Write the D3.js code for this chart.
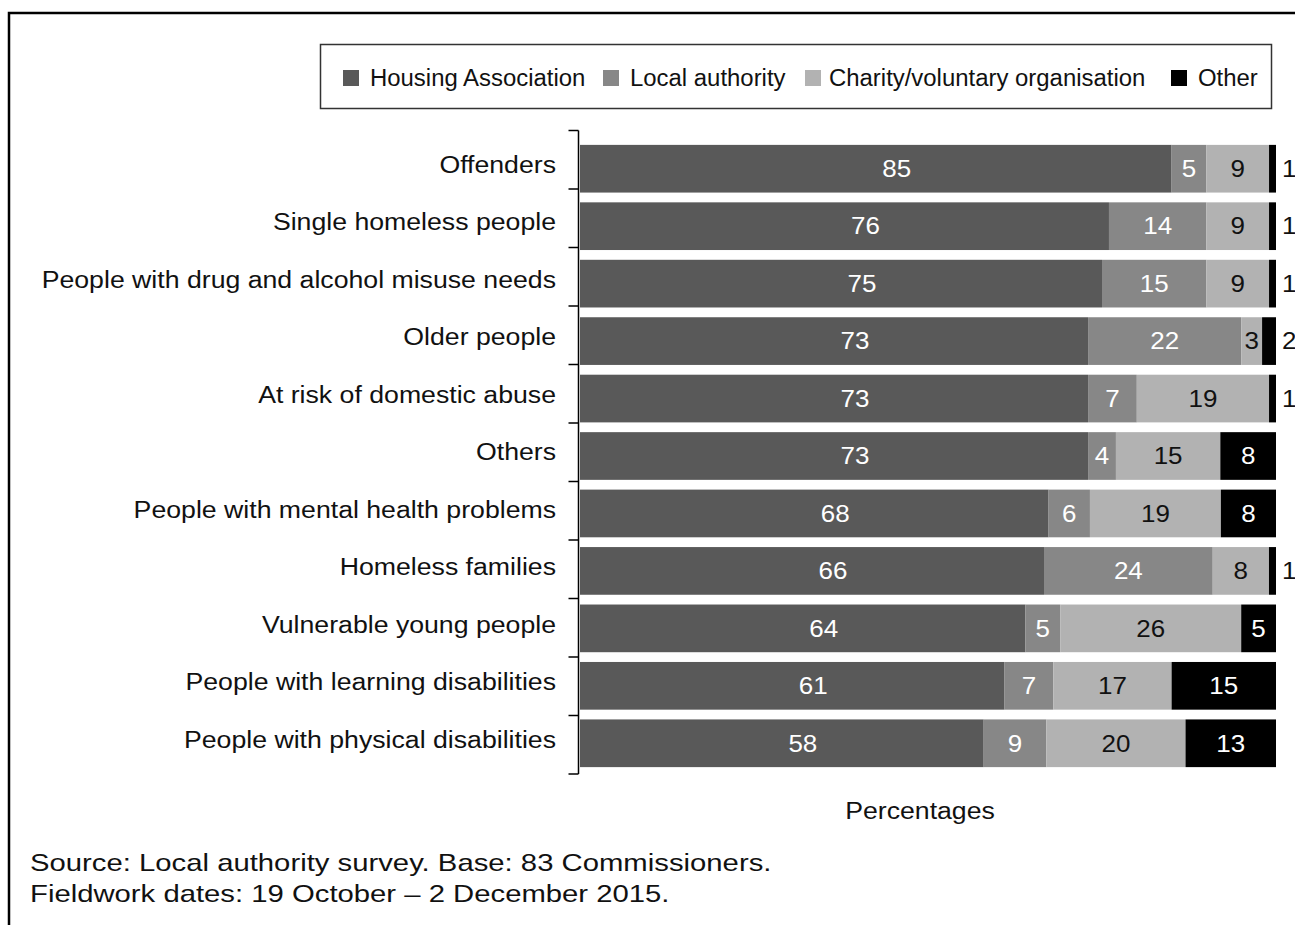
<!DOCTYPE html>
<html>
<head>
<meta charset="utf-8">
<script src="https://cdn.jsdelivr.net/npm/d3@7"></script>
<style>
  html, body { margin: 0; padding: 0; background: #fff; }
  svg { display: block; font-family: "Liberation Sans", Arial, sans-serif; }
</style>
</head>
<body>
<svg id="chart" width="1295" height="925"></svg>
<script>
// Client groups, top to bottom
const categories = [
  "Offenders",
  "Single homeless people",
  "People with drug and alcohol misuse needs",
  "Older people",
  "At risk of domestic abuse",
  "Others",
  "People with mental health problems",
  "Homeless families",
  "Vulnerable young people",
  "People with learning disabilities",
  "People with physical disabilities"
];

// Provider type series (percentages)
const seriesNames = ["Housing Association", "Local authority", "Charity/voluntary organisation", "Other"];
const housingAssociation = [85, 76, 75, 73, 73, 73, 68, 66, 64, 61, 58];
const localAuthority     = [5, 14, 15, 22, 7, 4, 6, 24, 5, 7, 9];
const charityVoluntary   = [9, 9, 9, 3, 19, 15, 19, 8, 26, 17, 20];
const otherProvider      = [1, 1, 1, 2, 1, 8, 8, 1, 5, 15, 13];

const axisTitle = "Percentages";
const notes = [
  "Source: Local authority survey. Base: 83 Commissioners.",
  "Fieldwork dates: 19 October \u2013 2 December 2015."
];

const fills = ["#595959", "#878787", "#b2b2b2", "#000000"];
const labelColours = ["#ffffff", "#ffffff", "#111111", "#ffffff"];
// horizontal nudge of the in-bar labels per series
const labelShift = [21, 0, 0, 0];

const rows = categories.map((c, i) => ({
  category: c,
  [seriesNames[0]]: housingAssociation[i],
  [seriesNames[1]]: localAuthority[i],
  [seriesNames[2]]: charityVoluntary[i],
  [seriesNames[3]]: otherProvider[i]
}));

const svg = d3.select("#chart");

// place a text at (px, py) with a horizontal widening factor
function placeText(sel, px, py, sx) {
  return sel.attr("x", 0).attr("y", 0)
    .attr("transform", (d, i) => {
      const X = typeof px === "function" ? px(d, i) : px;
      const Y = typeof py === "function" ? py(d, i) : py;
      return `translate(${X},${Y}) scale(${sx},1)`;
    });
}

// outer frame
svg.append("rect")
  .attr("x", 9).attr("y", 13)
  .attr("width", 1400).attr("height", 1000)
  .attr("fill", "none").attr("stroke", "#000").attr("stroke-width", 2.5);

// scales
const x = d3.scaleLinear().domain([0, 1]).range([580, 1276]);
const y = d3.scaleBand().domain(categories).range([140, 772]).paddingInner(0.17).paddingOuter(0.085);
const yTicks = d3.scaleBand().domain(categories).range([130.5, 774]);

const stack = d3.stack().keys(seriesNames).offset(d3.stackOffsetExpand);
const layers = stack(rows);

// bars
const g = svg.append("g");
layers.forEach((layer, k) => {
  g.append("g")
    .selectAll("rect")
    .data(layer)
    .join("rect")
    .attr("x", d => x(d[0]))
    .attr("y", d => y(d.data.category))
    .attr("width", d => x(d[1]) - x(d[0]))
    .attr("height", y.bandwidth())
    .attr("fill", fills[k]);
});

// value labels
layers.forEach((layer, k) => {
  const lab = g.append("g")
    .selectAll("text")
    .data(layer)
    .join("text")
    .attr("dy", "0.36em")
    .attr("font-size", 23)
    .text(d => d.data[seriesNames[k]]);
  const narrow = d => x(d[1]) - x(d[0]) < 14;
  placeText(lab,
    d => narrow(d) ? x(d[1]) + 6 : (x(d[0]) + x(d[1])) / 2 + labelShift[k],
    d => y(d.data.category) + y.bandwidth() / 2,
    1.13)
    .attr("text-anchor", d => narrow(d) ? "start" : "middle")
    .attr("fill", d => narrow(d) ? "#111" : labelColours[k]);
});

// category axis
const axisX = 578.5;
svg.append("line")
  .attr("x1", axisX).attr("x2", axisX)
  .attr("y1", yTicks.range()[0]).attr("y2", yTicks.range()[1])
  .attr("stroke", "#000").attr("stroke-width", 1.5);
const tickYs = categories.map(c => yTicks(c)).concat([yTicks.range()[1]]);
svg.append("g").selectAll("line")
  .data(tickYs)
  .join("line")
  .attr("x1", axisX - 10).attr("x2", axisX)
  .attr("y1", d => d).attr("y2", d => d)
  .attr("stroke", "#000").attr("stroke-width", 1.5);

const catLabels = svg.append("g").selectAll("text")
  .data(categories)
  .join("text")
  .attr("dy", "0.36em")
  .attr("text-anchor", "end")
  .attr("font-size", 23)
  .attr("fill", "#111")
  .text(c => c);
placeText(catLabels, 556, c => y(c) + y.bandwidth() / 2 - 4, 1.16);

// legend
svg.append("rect")
  .attr("x", 320.5).attr("y", 44.5)
  .attr("width", 951).attr("height", 64)
  .attr("fill", "#fff").attr("stroke", "#333").attr("stroke-width", 1.5);
const legendX = [343, 603, 805, 1171];
const legend = svg.append("g").selectAll("g")
  .data(seriesNames)
  .join("g")
  .attr("transform", (d, i) => `translate(${legendX[i]},0)`);
legend.append("rect")
  .attr("x", 0).attr("y", 70)
  .attr("width", 16).attr("height", 16)
  .attr("fill", (d, i) => fills[i]);
placeText(
  legend.append("text")
    .attr("font-size", 23)
    .attr("fill", "#111")
    .text(d => d),
  (d, i) => i === 2 ? 24 : 27, 86, 1.04);

// axis title
placeText(
  svg.append("text")
    .attr("text-anchor", "middle")
    .attr("font-size", 23)
    .attr("fill", "#111")
    .text(axisTitle),
  920, 819, 1.16);

// notes
placeText(
  svg.append("g").selectAll("text")
    .data(notes)
    .join("text")
    .attr("font-size", 24)
    .attr("fill", "#111")
    .text(d => d),
  30, (d, i) => 871 + i * 31, 1.22);
</script>
</body>
</html>
